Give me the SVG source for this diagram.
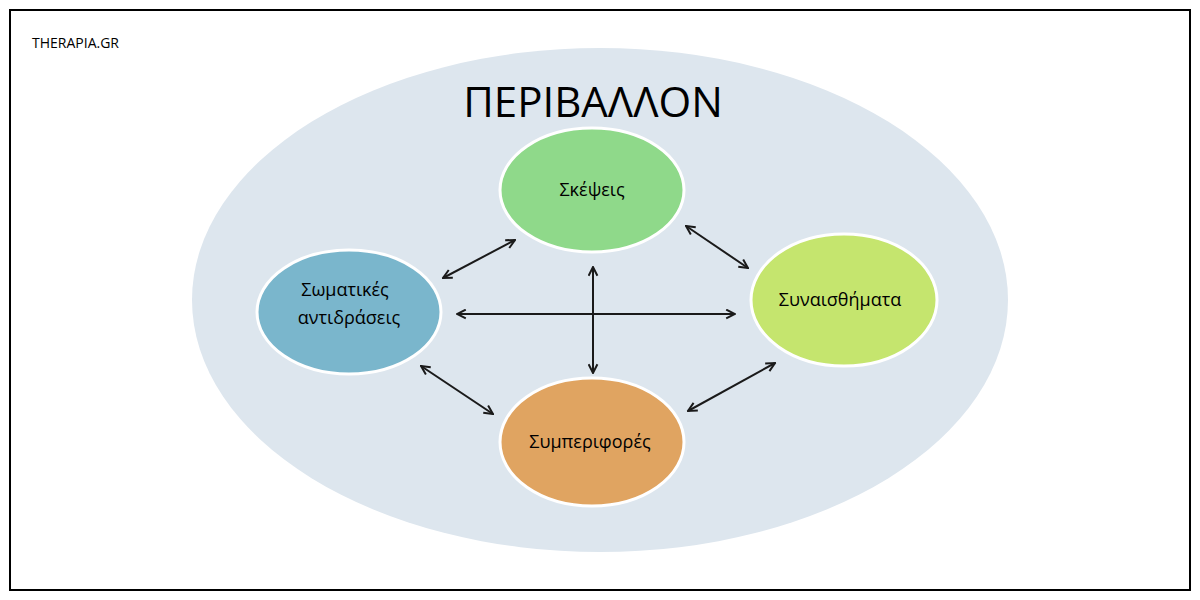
<svg xmlns="http://www.w3.org/2000/svg" width="1200" height="600" viewBox="0 0 1200 600">
<style>
text{font-family:"Open Sans","DejaVu Sans",sans-serif;fill:#000}
.n{stroke:#fff;stroke-width:3}
.c line{stroke:#1a1a1a;stroke-width:2;marker-start:url(#a);marker-end:url(#a)}
.l{font-size:18px;text-anchor:middle}
</style>
<defs><marker id="a" viewBox="0 0 10 10" refX="9" refY="5" markerWidth="11" markerHeight="11" orient="auto-start-reverse" markerUnits="userSpaceOnUse"><path d="M1,1 L9,5 L1,9" fill="none" stroke="#1a1a1a" stroke-width="1.8"/></marker></defs>
<rect x="0" y="0" width="1200" height="600" fill="#fff"/>
<rect x="10" y="10" width="1180" height="580" fill="#fff" stroke="#000" stroke-width="2"/>
<text x="32" y="48" font-size="14">THERAPIA.GR</text>
<g id="env"><ellipse cx="600" cy="300" rx="408" ry="252" fill="#dde6ee"/>
<text x="593" y="117" font-size="42" text-anchor="middle">ΠΕΡΙΒΑΛΛΟΝ</text></g>
<g class="c">
<line x1="443" y1="278" x2="515" y2="240"/>
<line x1="686" y1="226" x2="748" y2="268"/>
<line x1="457" y1="314" x2="735" y2="314"/>
<line x1="593" y1="267" x2="593" y2="373"/>
<line x1="421" y1="366" x2="493" y2="414"/>
<line x1="688" y1="411" x2="775" y2="363"/>
</g>
<g id="skepseis"><ellipse class="n" cx="592" cy="190" rx="92" ry="62" fill="#8fd98a"/><text class="l" x="592" y="196">Σκέψεις</text></g>
<g id="somatikes"><ellipse class="n" cx="349" cy="312" rx="92" ry="62" fill="#7ab6cc"/><text class="l" x="345" y="296">Σωματικές</text><text class="l" x="349" y="324">αντιδράσεις</text></g>
<g id="synaisthimata"><ellipse class="n" cx="844" cy="300" rx="93" ry="66" fill="#c5e56e"/><text class="l" x="840" y="306">Συναισθήματα</text></g>
<g id="symperifores"><ellipse class="n" cx="592" cy="442" rx="92" ry="64" fill="#e0a461"/><text class="l" x="590" y="448">Συμπεριφορές</text></g>
</svg>
